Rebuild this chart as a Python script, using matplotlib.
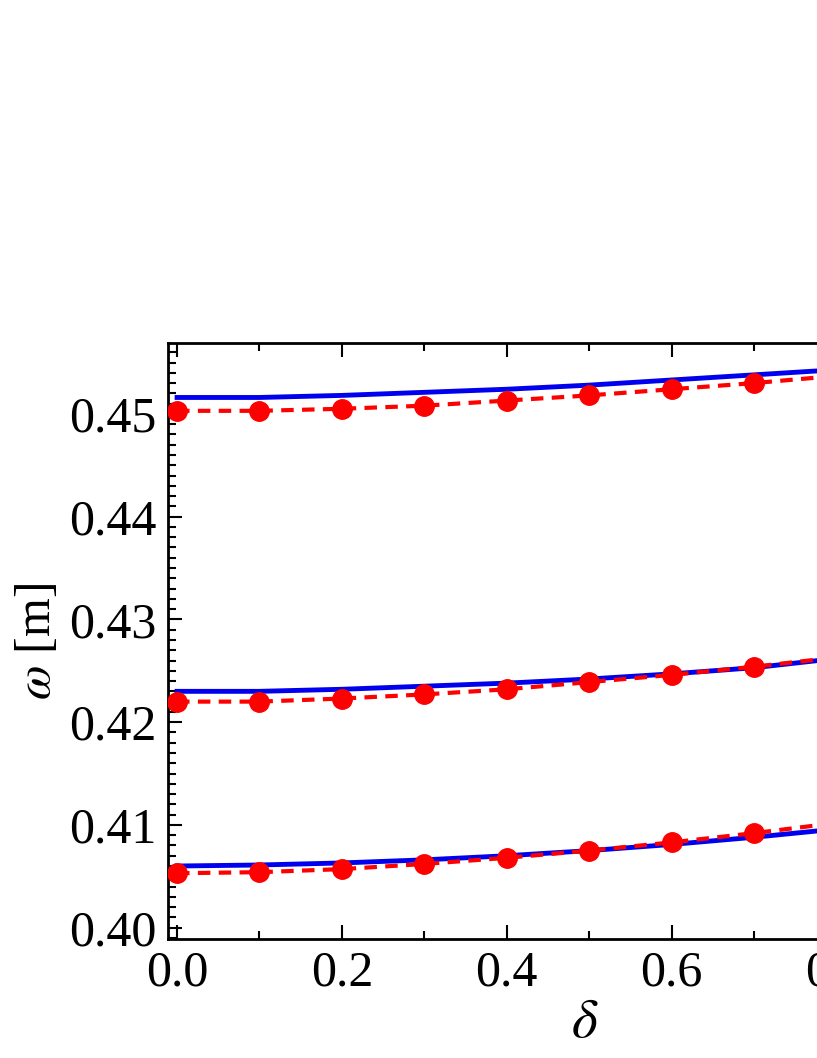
import matplotlib
matplotlib.use("Agg")
import matplotlib.pyplot as plt
from matplotlib.ticker import MultipleLocator
import numpy as np

delta = [0.0, 0.1, 0.2, 0.3, 0.4, 0.5, 0.6, 0.7, 0.8, 0.9, 1.0]
blue_top = [0.4516, 0.4516, 0.4518, 0.4521, 0.4524, 0.4528, 0.4533, 0.4538, 0.4543, 0.4549, 0.4555]
red_top = [0.4503, 0.4503, 0.4505, 0.4508, 0.4513, 0.4518, 0.4524, 0.4530, 0.4537, 0.4544, 0.4552]
blue_mid = [0.4230, 0.4230, 0.4232, 0.4235, 0.4238, 0.4242, 0.4247, 0.4253, 0.4262, 0.4270, 0.4279]
red_mid = [0.4220, 0.4220, 0.4223, 0.4227, 0.4232, 0.4239, 0.4246, 0.4254, 0.4263, 0.4272, 0.4282]
blue_bot = [0.4060, 0.4061, 0.4063, 0.4066, 0.4070, 0.4075, 0.4081, 0.4088, 0.4096, 0.4105, 0.4115]
red_bot = [0.4053, 0.4054, 0.4057, 0.4062, 0.4068, 0.4075, 0.4083, 0.4092, 0.4102, 0.4113, 0.4125]

plt.rcParams['font.family'] = ['Liberation Serif', 'DejaVu Serif']
plt.rcParams['mathtext.fontset'] = 'stix'

fig = plt.figure(figsize=(8.17, 10.58), dpi=100)
ax = fig.add_axes([0.2056, 0.1125, 1.02, 0.5633])

for b, r in [(blue_top, red_top), (blue_mid, red_mid), (blue_bot, red_bot)]:
    ax.plot(delta, b, color='#0000ee', lw=3.5, zorder=2)
    ax.plot(delta, r, color='#ff0000', lw=3, ls=(0, (3, 2)), zorder=3)
    ax.plot(delta, r, 'o', color='#ff0000', ms=14, zorder=4)

ax.set_xlim(-0.011, 1.0)
ax.set_ylim(0.3989, 0.4569)
ax.xaxis.set_major_locator(MultipleLocator(0.2))
ax.xaxis.set_minor_locator(MultipleLocator(0.1))
ax.yaxis.set_major_locator(MultipleLocator(0.01))
ax.yaxis.set_minor_locator(MultipleLocator(0.001))
ax.xaxis.set_major_formatter(plt.FuncFormatter(lambda v, p: f"{v:.1f}"))
ax.yaxis.set_major_formatter(plt.FuncFormatter(lambda v, p: f"{v:.2f}"))
ax.tick_params(which='both', direction='in', top=True, right=True, labelsize=36, width=1.5)
ax.tick_params(which='major', length=10, pad=8)
ax.tick_params(which='minor', length=6)
for s in ax.spines.values():
    s.set_linewidth(2)
ax.set_xlabel(r'$\delta$', fontsize=40, labelpad=0)
ax.set_ylabel(r'$\omega$ [m]', fontsize=36, labelpad=6)
fig.savefig('out.png', dpi=100)
